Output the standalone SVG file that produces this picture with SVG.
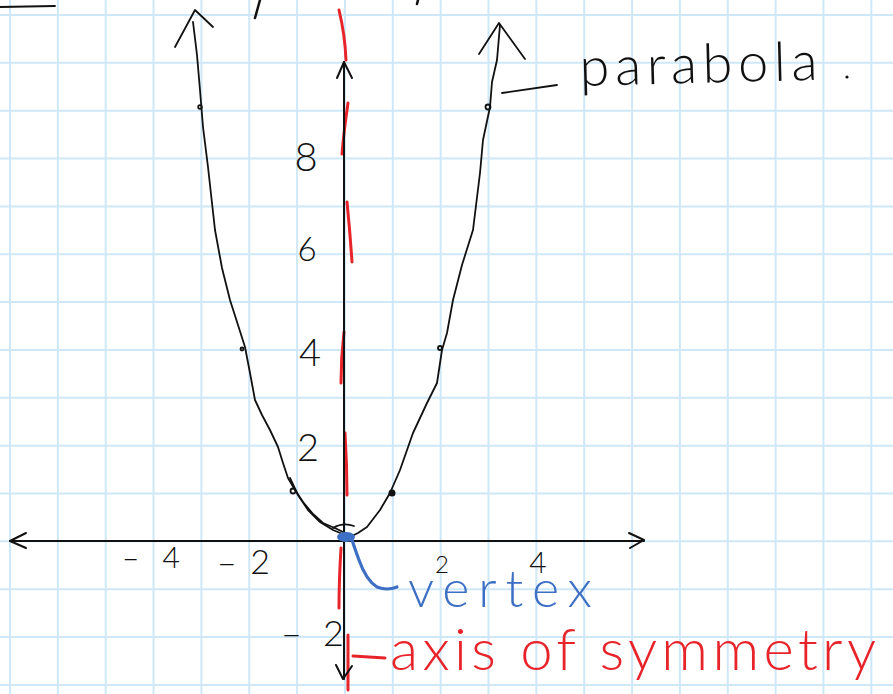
<svg xmlns="http://www.w3.org/2000/svg" width="893" height="694" viewBox="0 0 893 694">
<style>
.g{stroke:#cfe8f8;stroke-width:2;fill:none}
.ink{stroke:#111;stroke-width:1.8;fill:none;stroke-linecap:round;stroke-linejoin:round}
.ax{stroke:#111;stroke-width:2;fill:none;stroke-linecap:round;stroke-linejoin:round}
.red{stroke:#e8242b;stroke-width:3;fill:none;stroke-linecap:round}
.blue{stroke:#3d6fc4;stroke-width:3.2;fill:none;stroke-linecap:round;stroke-linejoin:round}
.t{font-family:Lato,"Open Sans","Liberation Sans",sans-serif;font-weight:300}
.k{fill:#111}
</style>
<rect width="893" height="694" fill="#ffffff"/>
<g id="grid" class="g">
<path d="M10 0V694M57.85 0V694M105.7 0V694M153.55 0V694M201.4 0V694M249.25 0V694M297.1 0V694M344.95 0V694M392.8 0V694M440.65 0V694M488.5 0V694M536.35 0V694M584.2 0V694M632.05 0V694M679.9 0V694M727.75 0V694M775.6 0V694M823.45 0V694M871.3 0V694"/>
<path d="M0 15H893M0 62.85H893M0 110.7H893M0 158.55H893M0 206.4H893M0 254.25H893M0 302.1H893M0 349.95H893M0 397.8H893M0 445.65H893M0 493.5H893M0 541.35H893M0 589.2H893M0 637.05H893M0 684.9H893"/>
</g>
<g id="connectors">
<g id="symmetry-axis" class="red">
<path d="M339 10Q345 35 346 60"/>
<path d="M348 103Q344 130 342 154"/>
<path d="M347 202Q350 232 352 262"/>
<path d="M344 332Q341 358 341 383"/>
<path d="M345 433Q347 465 347 495"/>
<path d="M341 548Q339 580 339 608"/>
<path d="M348 635V690"/>
<path d="M353 656Q368 657 385 658"/>
</g>
<g id="x-axis" class="ax">
<path d="M10 541L644 541"/>
<path d="M26 533L10 541L26 548"/>
<path d="M629 533L644 540L630 548"/>
</g>
<g id="y-axis" class="ax">
<path d="M344 62L344 679"/>
<path d="M337 78L344 62L352 78"/>
<path d="M336 665L343 679L352 666"/>
</g>
<g id="vertex-leader" class="blue">
<path d="M352 540Q356 552 359 560Q366 580 377 587Q387 591 397 587"/>
</g>
</g>
<g id="parabola" class="ink">
<path d="M193 22L197 55L200 90L203 127L208 167L215 230L222 268L230 300L238 325L245 347L250 373L255 400L262 415L270 430L278 447L283 463L288 478L295 490L303 502L313 514L323 523L337 529L345 533"/>
<path d="M290 478L298 495L308 510L320 522L333 530L345 535"/>
<path d="M175 47L195 10L213 27"/>
<path d="M350 537L358 533L367 527L380 510L390 493L400 470L413 433L427 403L437 383L442 350L447 333L453 300L462 265L473 230L480 173L483 140L490 107L492 82L497 60L500 25"/>
<path d="M479 54L499 23L525 59"/>
<path d="M333 528Q343 522 354 526"/>
<circle cx="200" cy="107" r="1.8"/>
<circle cx="242" cy="349" r="1.5"/>
<circle cx="293" cy="491" r="2.5"/>
<circle cx="392" cy="493" r="2.6" fill="#111"/>
<circle cx="440" cy="348" r="2"/>
<circle cx="488" cy="107" r="2.5"/>
</g>
<g id="vertex-point">
<ellipse cx="346" cy="537" rx="9" ry="5" fill="#3d6fc4"/>
</g>
<g id="top-marks" class="ink">
<path d="M0 7L55 6"/>
<path d="M260 0L255 18" stroke-width="2.5"/>
<path d="M418 0L417 4" stroke-width="2.5"/>
</g>
<g id="labels" class="t">
<text class="k" x="306" y="171" font-size="40" text-anchor="middle">8</text>
<text class="k" x="307" y="261" font-size="33" text-anchor="middle">6</text>
<text class="k" x="310" y="366" font-size="38" text-anchor="middle">4</text>
<text class="k" x="308" y="461" font-size="38" text-anchor="middle">2</text>
<text class="k" x="122" y="568" font-size="30" textLength="58" lengthAdjust="spacing">–4</text>
<text class="k" x="217" y="574" font-size="34" textLength="53" lengthAdjust="spacing">–2</text>
<text class="k" x="281" y="646" font-size="36" textLength="63" lengthAdjust="spacing">–2</text>
<text class="k" x="442" y="573" font-size="24" text-anchor="middle">2</text>
<text class="k" x="538" y="573" font-size="30" text-anchor="middle">4</text>
</g>
<g id="parabola-label">
<path class="ink" d="M502 93Q530 89 557 85"/>
<text class="t k" x="580" y="86" font-size="54" textLength="238" lengthAdjust="spacing" transform="rotate(-1.5 580 86)">parabola</text>
<circle cx="847" cy="77" r="1.6" fill="#111"/>
</g>
<g id="vertex-label">
<text class="t" x="408" y="607" font-size="52" fill="#3d6fc4" textLength="184" lengthAdjust="spacing">vertex</text>
</g>
<g id="axis-label">
<text class="t" x="390" y="670" font-size="58" fill="#e8242b" textLength="486" lengthAdjust="spacing">axis of symmetry</text>
</g>
</svg>
